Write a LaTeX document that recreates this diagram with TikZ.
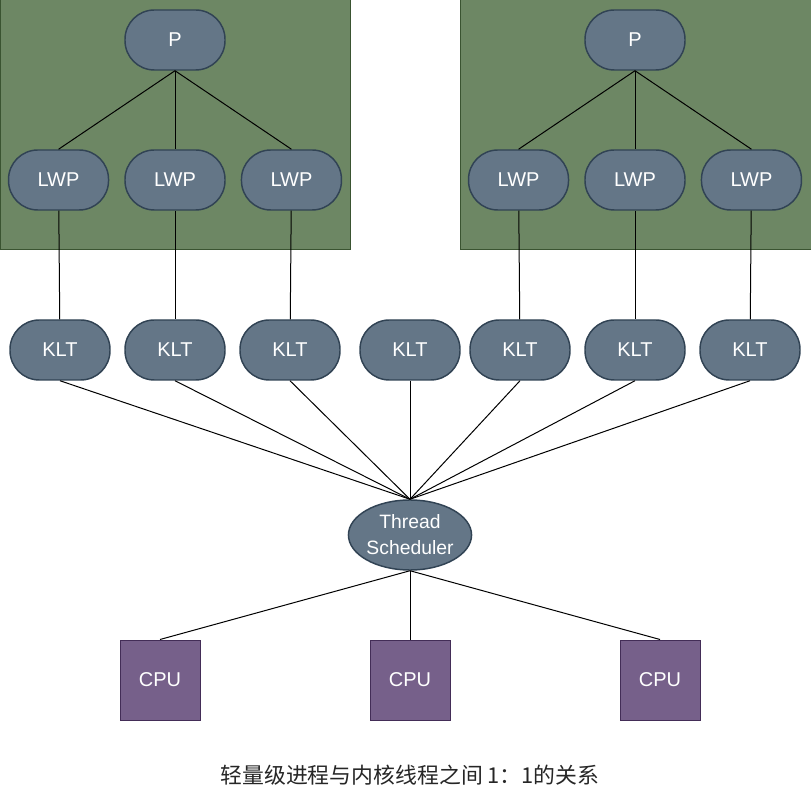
\documentclass[tikz,border=0pt]{standalone}
\usepackage{fontspec}
\setmainfont{Liberation Sans}
\newfontfamily\cjk{Noto Sans CJK SC}
\usetikzlibrary{positioning,shapes.geometric}
\definecolor{procgreen}{HTML}{6D8764}
\definecolor{procedge}{HTML}{3A5431}
\definecolor{slate}{HTML}{647687}
\definecolor{slateedge}{HTML}{314354}
\definecolor{cpufill}{HTML}{76608A}
\definecolor{cpuedge}{HTML}{432D57}

\begin{document}
\begin{tikzpicture}[x=0.75pt,y=-0.75pt,
				node distance=11.25pt,
				proc/.style={draw=procedge,fill=procgreen,line width=0.75pt},
				pill/.style={rounded corners=22pt,draw=slateedge,fill=slate,line width=1.1pt,
					minimum width=75pt,minimum height=45pt,inner sep=0pt,text=white,
					font=\fontsize{15}{18}\selectfont},
				sched/.style={ellipse,draw=slateedge,fill=slate,line width=1.1pt,
					minimum width=90pt,minimum height=52.5pt,inner sep=0pt,align=center,
					text=white,font=\fontsize{14.5}{19.5}\selectfont},
				cpu/.style={draw=cpuedge,fill=cpufill,line width=0.75pt,minimum size=60pt,
					inner sep=0pt,text=white,font=\fontsize{15}{18}\selectfont},
				link/.style={black,line width=0.75pt}]
				\useasboundingbox (0,0) rectangle (811,791);
				% process boxes
				\draw[proc] (0,0) rectangle (350,250);
				\draw[proc] (460,0) rectangle (811,250);
				% left process
				\node[pill] (p1) at (175,40) {P};
				\node[pill] (lwp2) at (175,180) {LWP};
				\node[pill,left=of lwp2] (lwp1) {LWP};
				\node[pill,right=of lwp2] (lwp3) {LWP};
				% right process
				\node[pill] (p2) at (635,40) {P};
				\node[pill] (lwp5) at (635,180) {LWP};
				\node[pill,left=of lwp5] (lwp4) {LWP};
				\node[pill,right=of lwp5] (lwp6) {LWP};
				% kernel threads
				\node[pill] (klt1) at (60,350) {KLT};
				\node[pill] (klt2) at (175,350) {KLT};
				\node[pill] (klt3) at (290,350) {KLT};
				\node[pill] (klt4) at (410,350) {KLT};
				\node[pill] (klt5) at (520,350) {KLT};
				\node[pill] (klt6) at (635,350) {KLT};
				\node[pill] (klt7) at (750,350) {KLT};
				\node[sched] (ts) at (410,535) {Thread\\Scheduler};
				\node[cpu] (cpu1) at (160,680) {CPU};
				\node[cpu] (cpu2) at (410,680) {CPU};
				\node[cpu] (cpu3) at (660,680) {CPU};
				\node[font=\cjk\fontsize{16.4}{19}\selectfont,text=black!85] (cap) at (410,775)
					{轻量级进程与内核线程之间 1：1的关系};
				% connectors
				\draw[link] (p1.south) -- (lwp1.north);
				\draw[link] (p1.south) -- (lwp2.north);
				\draw[link] (p1.south) -- (lwp3.north);
				\draw[link] (p2.south) -- (lwp4.north);
				\draw[link] (p2.south) -- (lwp5.north);
				\draw[link] (p2.south) -- (lwp6.north);
				\draw[link] (lwp1) -- (klt1);
				\draw[link] (lwp2) -- (klt2);
				\draw[link] (lwp3) -- (klt3);
				\draw[link] (lwp4) -- (klt5);
				\draw[link] (lwp5) -- (klt6);
				\draw[link] (lwp6) -- (klt7);
				\draw[link] (klt1.south) -- (ts.north);
				\draw[link] (klt2.south) -- (ts.north);
				\draw[link] (klt3.south) -- (ts.north);
				\draw[link] (klt4.south) -- (ts.north);
				\draw[link] (klt5.south) -- (ts.north);
				\draw[link] (klt6.south) -- (ts.north);
				\draw[link] (klt7.south) -- (ts.north);
				\draw[link] (ts.south) -- (cpu1.north);
				\draw[link] (ts.south) -- (cpu2.north);
				\draw[link] (ts.south) -- (cpu3.north);
			\end{tikzpicture}
\end{document}
